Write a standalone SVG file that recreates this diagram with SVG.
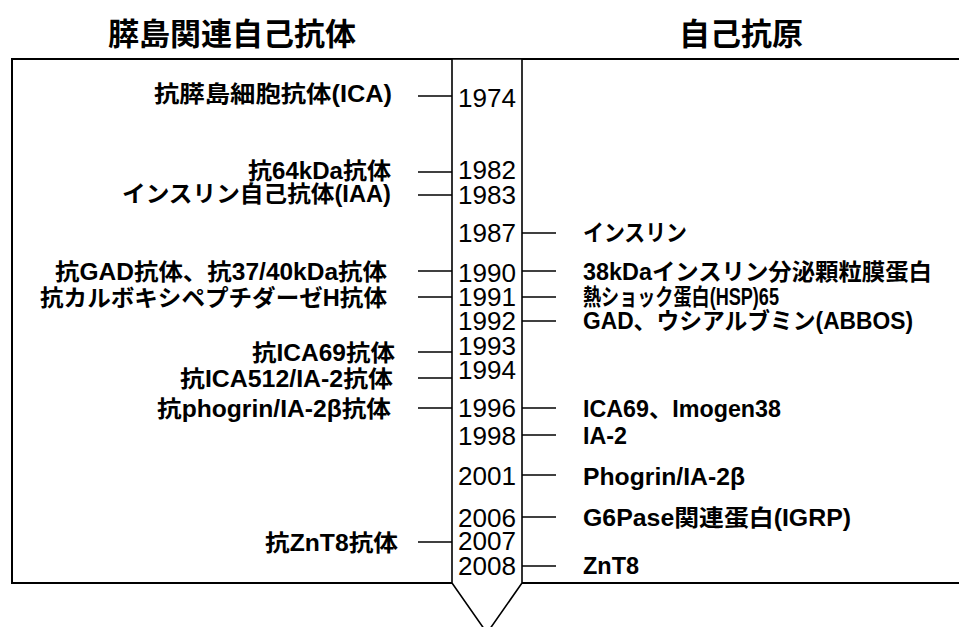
<svg xmlns="http://www.w3.org/2000/svg" width="959" height="627" viewBox="0 0 959 627">
<style>
.title{font-family:"Liberation Sans","Noto Sans CJK JP",sans-serif;font-weight:bold;font-size:31px;fill:#000;text-anchor:middle}
.lab{font-family:"Liberation Sans","Noto Sans CJK JP",sans-serif;font-weight:bold;font-size:23px;fill:#000}
.l{text-anchor:end}
.yr{font-family:"Liberation Sans","Noto Sans CJK JP",sans-serif;font-size:25px;fill:#000;text-anchor:end}
.frame{fill:none;stroke:#000;stroke-width:2}
.band{fill:#fff;stroke:#000;stroke-width:1.6}
.con line{stroke:#000;stroke-width:1.6}
</style>
<rect width="959" height="627" fill="#fff"/>
<text class="title" x="232" y="45">膵島関連自己抗体</text>
<text class="title" x="741" y="45">自己抗原</text>
<rect id="frame" class="frame" x="12" y="59" width="960" height="524"/>
<g id="timeline">
<polygon class="band" points="452,59 522,59 522,583 487,633 452,583"/>
<text class="yr" x="516" y="107" textLength="58" lengthAdjust="spacingAndGlyphs">1974</text>
<text class="yr" x="516" y="179" textLength="58" lengthAdjust="spacingAndGlyphs">1982</text>
<text class="yr" x="516" y="204" textLength="58" lengthAdjust="spacingAndGlyphs">1983</text>
<text class="yr" x="516" y="242" textLength="58" lengthAdjust="spacingAndGlyphs">1987</text>
<text class="yr" x="516" y="282" textLength="58" lengthAdjust="spacingAndGlyphs">1990</text>
<text class="yr" x="516" y="306" textLength="58" lengthAdjust="spacingAndGlyphs">1991</text>
<text class="yr" x="516" y="330" textLength="58" lengthAdjust="spacingAndGlyphs">1992</text>
<text class="yr" x="516" y="355" textLength="58" lengthAdjust="spacingAndGlyphs">1993</text>
<text class="yr" x="516" y="379" textLength="58" lengthAdjust="spacingAndGlyphs">1994</text>
<text class="yr" x="516" y="417" textLength="58" lengthAdjust="spacingAndGlyphs">1996</text>
<text class="yr" x="516" y="445" textLength="58" lengthAdjust="spacingAndGlyphs">1998</text>
<text class="yr" x="516" y="485" textLength="58" lengthAdjust="spacingAndGlyphs">2001</text>
<text class="yr" x="516" y="527" textLength="58" lengthAdjust="spacingAndGlyphs">2006</text>
<text class="yr" x="516" y="550" textLength="58" lengthAdjust="spacingAndGlyphs">2007</text>
<text class="yr" x="516" y="575" textLength="58" lengthAdjust="spacingAndGlyphs">2008</text>
</g>
<g id="connectors" class="con">
<line x1="418" y1="96" x2="452" y2="96"/>
<line x1="418" y1="172" x2="452" y2="172"/>
<line x1="418" y1="195" x2="452" y2="195"/>
<line x1="418" y1="271" x2="452" y2="271"/>
<line x1="418" y1="297" x2="452" y2="297"/>
<line x1="418" y1="352" x2="452" y2="352"/>
<line x1="418" y1="378" x2="452" y2="378"/>
<line x1="418" y1="408" x2="452" y2="408"/>
<line x1="418" y1="542" x2="452" y2="542"/>
<line x1="522" y1="233" x2="556" y2="233"/>
<line x1="522" y1="271" x2="556" y2="271"/>
<line x1="522" y1="297" x2="556" y2="297"/>
<line x1="522" y1="321" x2="556" y2="321"/>
<line x1="522" y1="408" x2="556" y2="408"/>
<line x1="522" y1="435" x2="556" y2="435"/>
<line x1="522" y1="475" x2="556" y2="475"/>
<line x1="522" y1="517" x2="556" y2="517"/>
<line x1="522" y1="566" x2="556" y2="566"/>
</g>
<g id="antibodies">
<text class="lab l" x="392" y="102" textLength="238" lengthAdjust="spacingAndGlyphs">抗膵島細胞抗体(ICA)</text>
<text class="lab l" x="391" y="179" textLength="143" lengthAdjust="spacingAndGlyphs">抗64kDa抗体</text>
<text class="lab l" x="391" y="202" textLength="269" lengthAdjust="spacingAndGlyphs">インスリン自己抗体(IAA)</text>
<text class="lab l" x="387" y="280" textLength="332" lengthAdjust="spacingAndGlyphs">抗GAD抗体、抗37/40kDa抗体</text>
<text class="lab l" x="387" y="306" textLength="347" lengthAdjust="spacingAndGlyphs">抗カルボキシペプチダーゼH抗体</text>
<text class="lab l" x="395" y="361" textLength="143" lengthAdjust="spacingAndGlyphs">抗ICA69抗体</text>
<text class="lab l" x="393" y="387" textLength="213" lengthAdjust="spacingAndGlyphs">抗ICA512/IA-2抗体</text>
<text class="lab l" x="391" y="417" textLength="234" lengthAdjust="spacingAndGlyphs">抗phogrin/IA-2β抗体</text>
<text class="lab l" x="398" y="551" textLength="133" lengthAdjust="spacingAndGlyphs">抗ZnT8抗体</text>
</g>
<g id="antigens">
<text class="lab" x="583" y="241" textLength="104" lengthAdjust="spacingAndGlyphs">インスリン</text>
<text class="lab" x="583" y="280" textLength="349" lengthAdjust="spacingAndGlyphs">38kDaインスリン分泌顆粒膜蛋白</text>
<text class="lab" x="583" y="305" textLength="196" lengthAdjust="spacingAndGlyphs">熱ショック蛋白(HSP)65</text>
<text class="lab" x="583" y="329" textLength="330" lengthAdjust="spacingAndGlyphs">GAD、ウシアルブミン(ABBOS)</text>
<text class="lab" x="583" y="417" textLength="198" lengthAdjust="spacingAndGlyphs">ICA69、Imogen38</text>
<text class="lab" x="583" y="444" textLength="44" lengthAdjust="spacingAndGlyphs">IA-2</text>
<text class="lab" x="583" y="485" textLength="162" lengthAdjust="spacingAndGlyphs">Phogrin/IA-2β</text>
<text class="lab" x="583" y="526" textLength="268" lengthAdjust="spacingAndGlyphs">G6Pase関連蛋白(IGRP)</text>
<text class="lab" x="583" y="574" textLength="56" lengthAdjust="spacingAndGlyphs">ZnT8</text>
</g>
</svg>
